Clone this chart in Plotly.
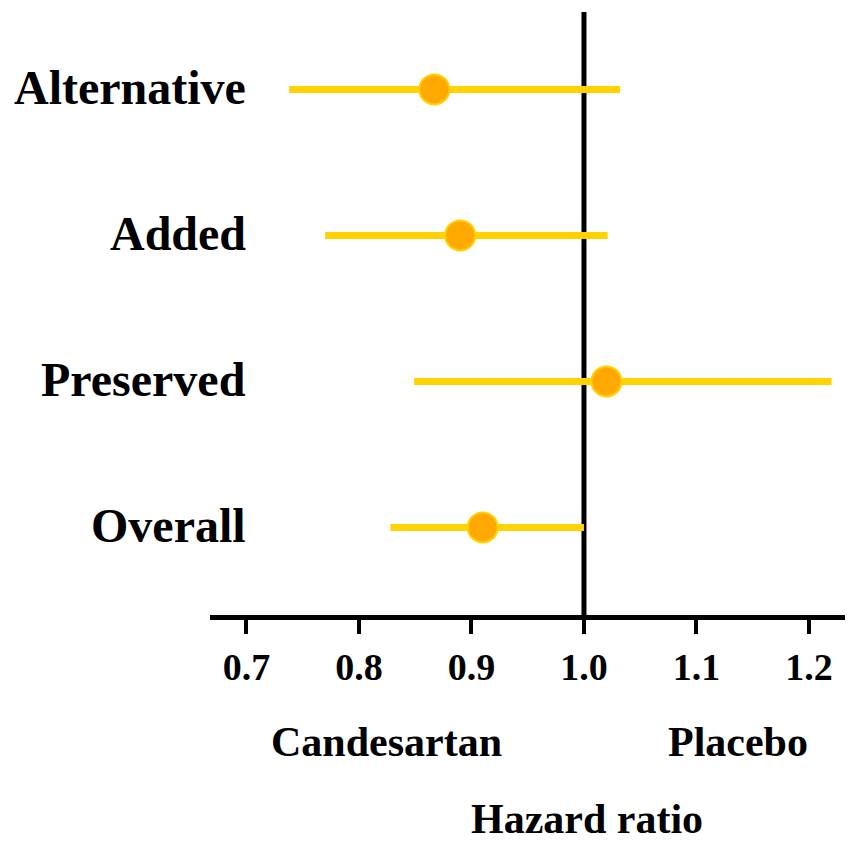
import plotly.graph_objects as go

categories = ["Overall", "Preserved", "Added", "Alternative"]
hazard_ratio = [0.91, 1.02, 0.89, 0.867]
ci_low = [0.828, 0.849, 0.770, 0.738]
ci_high = [1.00, 1.220, 1.021, 1.032]
x_ticks = [0.7, 0.8, 0.9, 1.0, 1.1, 1.2]
x_tick_labels = ["0.7", "0.8", "0.9", "1.0", "1.1", "1.2"]

FONT = "Liberation Serif"
GOLD = "#FFD200"
ORANGE = "#FFA800"

ypos = list(range(len(categories)))

fig = go.Figure()
fig.add_trace(go.Scatter(
    x=hazard_ratio, y=ypos, mode="markers",
    marker=dict(size=30, color=ORANGE, line=dict(color=GOLD, width=2)),
    error_x=dict(type="data", symmetric=False,
                 array=[h - p for h, p in zip(ci_high, hazard_ratio)],
                 arrayminus=[p - l for p, l in zip(hazard_ratio, ci_low)],
                 color=GOLD, thickness=7, width=0),
    showlegend=False, cliponaxis=False,
))

fig.add_shape(type="line", x0=1.0, x1=1.0, xref="x", y0=0, y1=1, yref="paper",
              line=dict(color="black", width=5), layer="below")

for c, yv in zip(categories, ypos):
    fig.add_annotation(text="<b>%s</b>" % c, x=0.0598, xref="paper", y=yv, yref="y",
                       showarrow=False, font=dict(family=FONT, size=48, color="black"),
                       xanchor="right", yanchor="middle", yshift=2)

fig.add_annotation(text="<b>Candesartan</b>", x=0.8245, xref="x", y=-0.2106, yref="paper",
                   showarrow=False, font=dict(family=FONT, size=42, color="black"),
                   xanchor="center", yanchor="middle")
fig.add_annotation(text="<b>Placebo</b>", x=1.1365, xref="x", y=-0.2106, yref="paper",
                   showarrow=False, font=dict(family=FONT, size=42, color="black"),
                   xanchor="center", yanchor="middle")
fig.add_annotation(text="<b>Hazard ratio</b>", x=1.003, xref="x", y=-0.338, yref="paper",
                   showarrow=False, font=dict(family=FONT, size=42, color="black"),
                   xanchor="center", yanchor="middle")

fig.update_layout(
    width=847, height=842,
    margin=dict(l=210, r=2, t=12, b=227),
    plot_bgcolor="white", paper_bgcolor="white",
    font=dict(family=FONT, color="black"),
    xaxis=dict(range=[0.6676, 1.232], tickvals=x_ticks,
               ticktext=["<b>%s</b>" % t for t in x_tick_labels],
               showline=True, linecolor="black", linewidth=5,
               ticks="outside", ticklen=14, tickwidth=4, tickcolor="black",
               showgrid=False, zeroline=False, automargin=False,
               tickfont=dict(family=FONT, size=38, color="black")),
    yaxis=dict(range=[-0.60, 3.53], tickvals=ypos, showticklabels=False,
               showline=False, showgrid=False, zeroline=False, ticks="",
               automargin=False),
)

fig.write_html("out.html")
